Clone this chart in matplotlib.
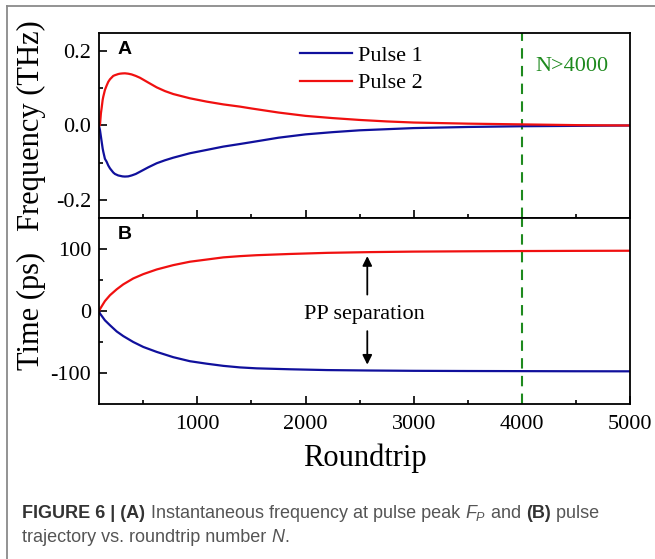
import matplotlib
matplotlib.use('Agg')
import matplotlib.pyplot as plt
from matplotlib.lines import Line2D

# panel A: instantaneous frequency at pulse peak (THz)
nA = [90, 99, 108, 115, 124, 130, 145, 161, 176, 192, 222, 238, 268, 284, 307, 330, 360,
      392, 430, 469, 546, 624, 700, 777, 931, 1086, 1240, 1394, 1500, 1750, 2000, 2250,
      2500, 2750, 3000, 3500, 4000, 4500, 5000]
freq1 = [0.0, -0.012, -0.030, -0.044, -0.062, -0.071, -0.090, -0.098, -0.108, -0.116,
         -0.127, -0.131, -0.135, -0.136, -0.1375, -0.138, -0.1375, -0.135, -0.131, -0.125,
         -0.113, -0.102, -0.094, -0.087, -0.075, -0.066, -0.057, -0.050, -0.045, -0.033,
         -0.024, -0.018, -0.013, -0.010, -0.007, -0.004, -0.002, -0.001, 0.0]
freq2 = [0.0, 0.001, 0.033, 0.048, 0.069, 0.078, 0.096, 0.108, 0.118, 0.125, 0.134,
         0.136, 0.139, 0.140, 0.1407, 0.141, 0.140, 0.138, 0.134, 0.129, 0.116, 0.103,
         0.093, 0.085, 0.0735, 0.0645, 0.057, 0.051, 0.046, 0.035, 0.026, 0.020, 0.015,
         0.011, 0.008, 0.005, 0.003, 0.001, 0.0]

# panel B: pulse trajectory (ps)
nB = [90, 99, 145, 192, 254, 315, 407, 500, 624, 777, 931, 1086, 1240, 1394, 1547, 1856,
      2200, 2600, 3000, 3500, 4000, 4500, 5000]
time1 = [0, -4, -15, -23, -33, -40.5, -50, -58, -66, -74.5, -81, -85, -88.5, -91, -92.5,
         -94, -95.3, -96, -96.5, -96.8, -97, -97.2, -97.3]
time2 = [0, 3, 16, 25.5, 35, 43, 52.5, 59.5, 67, 74, 79.5, 83, 86.5, 88.5, 90, 92,
         93.8, 95, 95.8, 96.3, 96.7, 97, 97.2]

xticks = [1000, 2000, 3000, 4000, 5000]
nmark = 4000

red = '#f01010'
blue = '#10109c'
green = '#1e8a1e'

plt.rcParams['font.family'] = 'Liberation Serif'
plt.rcParams['axes.unicode_minus'] = False
plt.rcParams['mathtext.fontset'] = 'custom'
plt.rcParams['mathtext.it'] = 'Liberation Sans:italic'
plt.rcParams['mathtext.rm'] = 'Liberation Sans'

fig = plt.figure(figsize=(6.55, 5.59), dpi=100)
axA = fig.add_axes([0.1511, 0.610, 0.8107, 0.331])
axB = fig.add_axes([0.1511, 0.2773, 0.8107, 0.3327])

for ax in (axA, axB):
    for s in ax.spines.values():
        s.set_linewidth(1.3)
    ax.set_xlim(90, 5000)
    ax.set_xticks(xticks)
    ax.set_xticks([500, 1500, 2500, 3500, 4500], minor=True)
    ax.tick_params(which='both', direction='in', top=False, right=False, labelsize=16, width=1.2)
    ax.tick_params(which='major', length=6)
    ax.tick_params(which='minor', length=3.2)
    ax.tick_params(axis='x', pad=8)
    ax.tick_params(axis='y', pad=5.7)
    ax.axvline(nmark, color=green, lw=1.5, dashes=(5, 3.5))
    ax.yaxis.set_label_coords(-0.1, 0.5)

axA.plot(nA, freq1, color=blue, lw=1.6, label='Pulse 1')
axA.plot(nA, freq2, color=red, lw=1.6, label='Pulse 2')
axA.set_ylim(-0.25, 0.25)
axA.set_yticks([-0.2, 0.0, 0.2])
axA.set_yticks([-0.1, 0.1], minor=True)
axA.tick_params(axis='x', labelbottom=False)
axA.set_ylabel('Frequency (THz)', fontsize=22)
axA.legend(loc='upper left', bbox_to_anchor=(0.34, 1.04), frameon=False, fontsize=16,
           handlelength=2.35, handletextpad=0.3, labelspacing=0.3)
axA.text(0.035, 0.955, 'A', transform=axA.transAxes, fontsize=14, fontweight='bold',
         family='Liberation Sans', va='top')
axA.text(4122, 0.159, 'N>4000', color=green, fontsize=16, va='center')

axB.plot(nB, time1, color=blue, lw=1.6)
axB.plot(nB, time2, color=red, lw=1.6)
axB.set_ylim(-150, 150)
axB.set_yticks([-100, 0, 100])
axB.set_yticks([-50, 50], minor=True)
axB.set_ylabel('Time (ps)', fontsize=22)
axB.set_xlabel('Roundtrip', fontsize=22, labelpad=7)
axB.text(0.035, 0.955, 'B', transform=axB.transAxes, fontsize=14, fontweight='bold',
         family='Liberation Sans', va='top')
axB.text(2540, -5, 'PP separation', fontsize=16, ha='center', va='center')
axB.annotate('', xy=(2571, 93), xytext=(2571, 22),
             arrowprops=dict(arrowstyle='-|>', color='black', lw=1.3, mutation_scale=14))
axB.annotate('', xy=(2571, -91), xytext=(2571, -28),
             arrowprops=dict(arrowstyle='-|>', color='black', lw=1.3, mutation_scale=14))

# caption frame (top and left edges)
fig.add_artist(Line2D([7 / 655, 7 / 655], [0, 1 - 6 / 559], transform=fig.transFigure,
                      color='#8a8a8a', lw=1.3))
fig.add_artist(Line2D([7 / 655, 1], [1 - 6 / 559, 1 - 6 / 559], transform=fig.transFigure,
                      color='#8a8a8a', lw=1.3))

# caption: pieces of mixed weight laid out one after another
dark = '#333333'
grey = '#555555'
line1 = [('FIGURE 6 | (A)', 'bold', 'normal', dark),
         (' Instantaneous frequency at pulse peak ', 'normal', 'normal', grey),
         ('$F_P$', 'normal', 'normal', grey),
         (' and ', 'normal', 'normal', grey),
         ('(B)', 'bold', 'normal', dark),
         (' pulse', 'normal', 'normal', grey)]
line2 = [('trajectory vs. roundtrip number ', 'normal', 'normal', grey),
         ('N', 'normal', 'italic', grey),
         ('.', 'normal', 'normal', grey)]

fig.canvas.draw()
r = fig.canvas.get_renderer()
for line, ybase in ((line1, 518), (line2, 542)):
    x = 22.5 / 655
    for s, w, st, col in line:
        t = fig.text(x, 1 - ybase / 559, s, family='Liberation Sans', fontsize=13,
                     fontweight=w, fontstyle=st, color=col, va='baseline')
        x += t.get_window_extent(r).width / fig.bbox.width

fig.savefig('out.png', dpi=100)
